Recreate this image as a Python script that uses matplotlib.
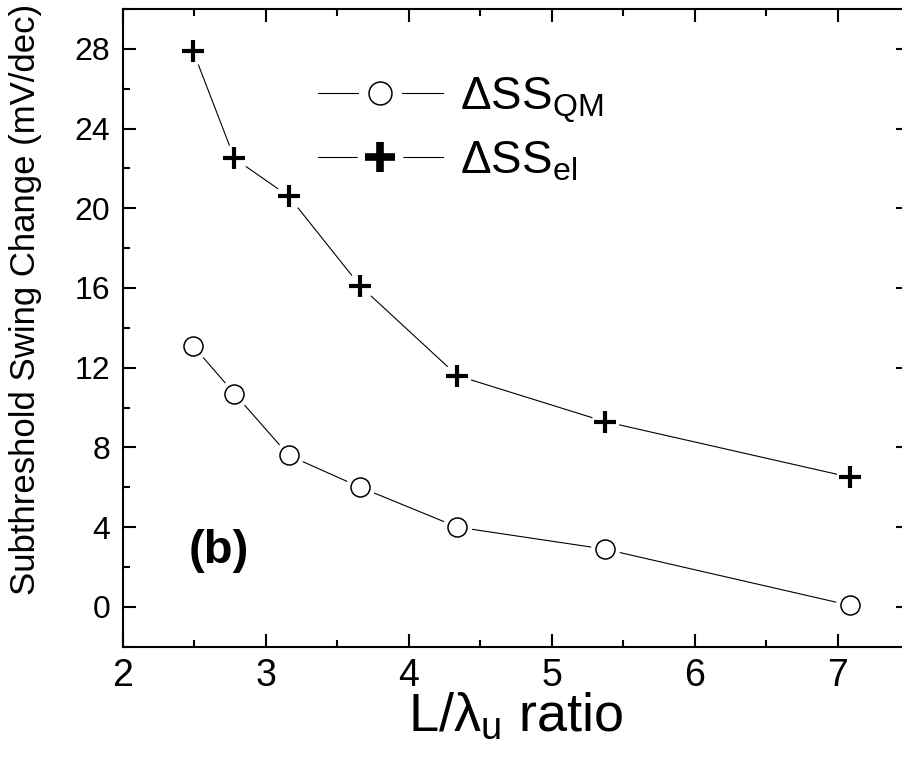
import matplotlib
matplotlib.use("Agg")
import matplotlib.pyplot as plt
from matplotlib.ticker import MultipleLocator
from matplotlib.legend_handler import HandlerTuple

plt.rcParams['font.family'] = ['Liberation Sans', 'DejaVu Sans']
plt.rcParams['mathtext.fontset'] = 'custom'
plt.rcParams['mathtext.rm'] = 'Liberation Sans'
plt.rcParams['mathtext.it'] = 'Liberation Sans:italic'
plt.rcParams['mathtext.bf'] = 'Liberation Sans:bold'

# Data
ratio = [2.49, 2.78, 3.16, 3.66, 4.34, 5.37, 7.09]
ss_qm = [13.1, 10.7, 7.6, 6.0, 4.0, 2.9, 0.07]
ss_el = [27.9, 22.5, 20.6, 16.1, 11.6, 9.3, 6.5]
label_qm = r'$\Delta$SS$_{\mathrm{QM}}$'
label_el = r'$\Delta$SS$_{\mathrm{el}}$'
xlabel = r'L/$\mathrm{\lambda}_{\mathrm{u}}$ ratio'
ylabel = 'Subthreshold Swing Change (mV/dec)'
panel = '(b)'

fig = plt.figure(figsize=(9.02, 7.59), dpi=100)
W, H = 902, 759
left, right, top, bottom = 123, 909, 9, 646.7
ax = fig.add_axes([left / W, 1 - bottom / H, (right - left) / W, (bottom - top) / H])

lw = 0.8
# QM series
l1, = ax.plot(ratio, ss_qm, '-', color='black', lw=lw, zorder=2)
g1, = ax.plot(ratio, ss_qm, 'o', ls='none', ms=21, mfc='white', mec='white', mew=0, zorder=3)
m1, = ax.plot(ratio, ss_qm, 'o', ls='none', ms=13.7, mfc='white', mec='black', mew=1.1, zorder=4)
# el series
l2, = ax.plot(ratio, ss_el, '-', color='black', lw=lw, zorder=2)
g2, = ax.plot(ratio, ss_el, 'o', ls='none', ms=20, mfc='white', mec='white', mew=0, zorder=3)
m2, = ax.plot(ratio, ss_el, '+', ls='none', ms=15.6, mec='black', mew=3.0, zorder=4)

# legend handles
hl1, = ax.plot([], [], '-', color='black', lw=lw)
hg1, = ax.plot([], [], 'o', ls='none', ms=31, mfc='white', mec='white', mew=0)
hm1, = ax.plot([], [], 'o', ls='none', ms=16.5, mfc='white', mec='black', mew=1.1)
hl2, = ax.plot([], [], '-', color='black', lw=lw)
hg2, = ax.plot([], [], 'o', ls='none', ms=33, mfc='white', mec='white', mew=0)
hm2, = ax.plot([], [], '+', ls='none', ms=22, mec='black', mew=5.5)

fs_leg = 33
leg = ax.legend([(hl1, hg1, hm1), (hl2, hg2, hm2)], [label_qm, label_el],
                handler_map={tuple: HandlerTuple(ndivide=1)},
                loc='upper left', bbox_to_anchor=(0.248, 0.896), frameon=False,
                fontsize=fs_leg, handlelength=2.73, handletextpad=0.37,
                labelspacing=0.31, borderaxespad=0, borderpad=0)

ax.text(2.67, 2.8, panel, fontsize=34, fontweight='bold', ha='center', va='center')

ax.set_xlim(2, 7.5)
ax.set_ylim(-2, 30)
ax.xaxis.set_major_locator(MultipleLocator(1))
ax.xaxis.set_minor_locator(MultipleLocator(0.5))
ax.yaxis.set_minor_locator(MultipleLocator(2))
ax.set_yticks([0, 4, 8, 12, 16, 20, 24, 28])

ax.tick_params(which='both', direction='in', top=True, right=True, width=1.5)
ax.tick_params(which='major', length=9.5)
ax.tick_params(which='minor', length=5)
ax.tick_params(axis='y', labelsize=23, pad=9)
ax.tick_params(axis='x', labelsize=27, pad=8)
for s in ax.spines.values():
    s.set_linewidth(1.5)

ax.set_ylabel(ylabel, fontsize=25)
ax.yaxis.set_label_coords(-0.103, 0.544)
ax.set_xlabel(xlabel, fontsize=39, labelpad=-2)

fig.savefig('out.png', dpi=100)
